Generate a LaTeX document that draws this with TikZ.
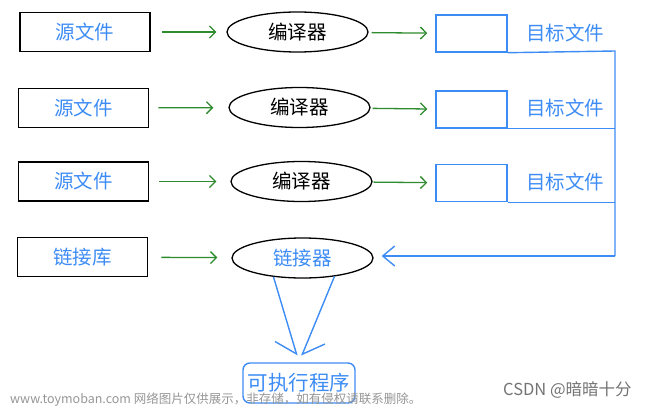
\documentclass[tikz,border=0pt]{standalone}
\usepackage{fontspec}
\setmainfont{Noto Sans CJK SC}
\usetikzlibrary{shapes.geometric}
\usetikzlibrary{arrows.meta}
\definecolor{fileblue}{RGB}{61,140,245}
\definecolor{arrgreen}{RGB}{46,139,46}
\definecolor{markgray}{RGB}{150,150,150}
\tikzset{%
	srcbox/.style={draw=black,line width=1.6pt,minimum width=130pt,minimum height=39pt,text=fileblue,font=\fontsize{19.5}{21}\selectfont},
	compbox/.style={ellipse,draw=black,line width=1.3pt,minimum width=141pt,minimum height=40pt,inner sep=0pt,font=\fontsize{19.5}{21}\selectfont},
	objbox/.style={draw=fileblue,line width=1.4pt,minimum width=71pt,minimum height=37pt},
	objlabel/.style={text=fileblue,font=\fontsize{19.5}{21}\selectfont},
	garrow/.style={arrgreen,line width=1.3pt,-{Straight Barb[length=6pt,width=12pt]}},
	bline/.style={fileblue,line width=1.4pt},
}

\begin{document}
\begin{tikzpicture}[x=1pt,y=-1pt]
	\useasboundingbox (0,0) rectangle (655,409);
	% sources and compilers
	\node[srcbox] (src1) at (85,32) {源文件};
	\node[srcbox] (src2) at (83.5,108) {源文件};
	\node[srcbox] (src3) at (83.5,181.5) {源文件};
	\node[srcbox] (lib) at (82.5,257) {链接库};
	\node[compbox] (comp1) at (297.5,32) {编译器};
	\node[compbox] (comp2) at (299.5,107.5) {编译器};
	\node[compbox] (comp3) at (301.5,181.5) {编译器};
	\node[compbox,text=fileblue] (link) at (302.5,258) {链接器};
	% object files
	\node[objbox] (obj1) at (471.5,33.5) {};
	\node[objbox] (obj2) at (471.5,109.5) {};
	\node[objbox] (obj3) at (471.5,183) {};
	\node[objlabel] (objlbl1) at (565,33) {目标文件};
	\node[objlabel] (objlbl2) at (565,108) {目标文件};
	\node[objlabel] (objlbl3) at (565,182) {目标文件};
	\node[draw=fileblue,line width=1.4pt,rounded corners=7pt,minimum width=112pt,minimum height=40pt,text=fileblue,font=\fontsize{20.5}{22}\selectfont] (exe) at (299,383) {可执行程序};
	% green arrows
	\draw[garrow,shorten <=11pt,shorten >=10pt] (src1) -- (comp1);
	\draw[garrow,shorten <=9pt,shorten >=15pt] (src2) -- (comp2);
	\draw[garrow,shorten <=10pt,shorten >=14pt] (src3) -- (comp3);
	\draw[garrow,shorten <=13pt,shorten >=14pt] (lib) -- (link);
	\draw[garrow,shorten <=3pt,shorten >=8pt] (comp1) -- (obj1);
	\draw[garrow,shorten <=2pt,shorten >=8pt] (comp2) -- (obj2);
	\draw[garrow,shorten <=1pt,shorten >=8pt] (comp3) -- (obj3);
	% blue bus back to the linker
	\coordinate (bustop) at (615,51);
	\coordinate (busbot) at (615,256);
	\draw[bline] (obj1.south east) -- (bustop) -- (busbot);
	\draw[bline] (obj2.south east) -- (obj2.south east -| bustop);
	\draw[bline] (obj3.south east) -- (obj3.south east -| bustop);
	\draw[bline,-{Straight Barb[length=12pt,width=20pt]},shorten >=8pt] (busbot) -- (busbot -| link.east);
	% linker to executable
	\draw[bline,-{Straight Barb[right,length=18pt,width=34pt]},shorten >=7pt] (link.213) -- (exe.north);
	\draw[bline,-{Straight Barb[left,length=18pt,width=34pt]},shorten >=7pt] (link.330) -- (exe.north);
	% watermarks
	\node[text=markgray,font=\fontsize{12.5}{14}\selectfont,anchor=west,inner sep=0pt] (mark1) at (10,400) {www.toymoban.com 网络图片仅供展示，非存储，如有侵权请联系删除。};
	\node[text=black!55,font=\fontsize{16.5}{18}\selectfont,anchor=west,inner sep=0pt] (mark2) at (503,390) {CSDN @暗暗十分};
\end{tikzpicture}
\end{document}
